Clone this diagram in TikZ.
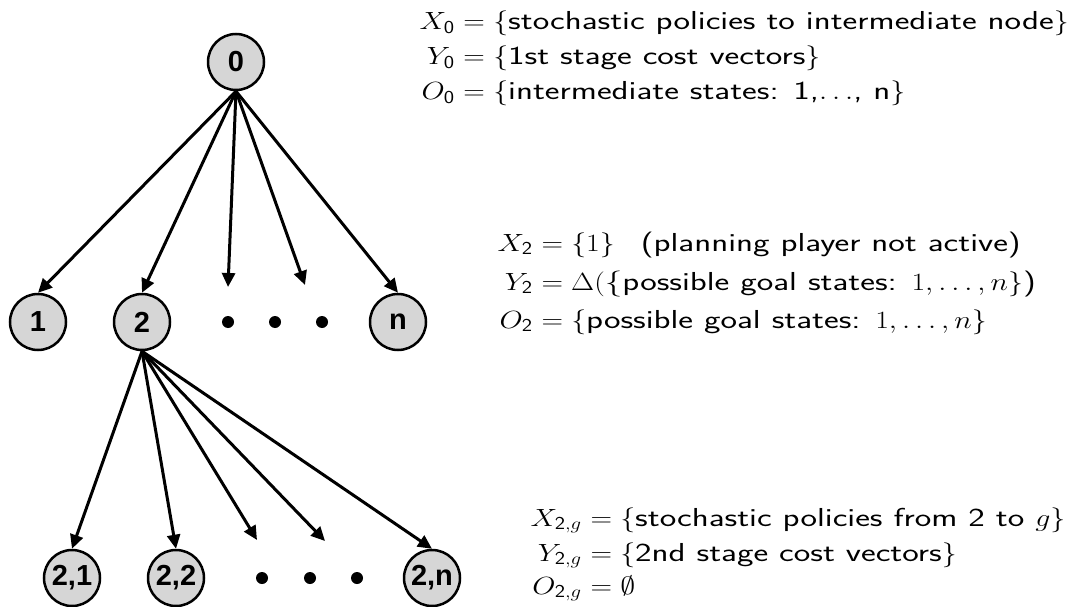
\documentclass[tikz,border=0pt]{standalone}
\usepackage{graphicx}
\usepackage{amsmath}
\usepackage{fontspec}
\setsansfont{Latin Modern Sans}[FakeStretch=1.35]
\newfontfamily\subsf{Latin Modern Sans}
\newfontfamily\nodefont{Liberation Sans}
\newcommand{\M}[1]{\scalebox{1.2}[1]{$#1$}}
\newcommand{\subtxt}[1]{\text{\subsf #1}}
\usetikzlibrary{arrows.meta}
\begin{document}
\begin{tikzpicture}[x=1pt,y=-1pt,
  circ/.style={circle, draw, line width=2.5pt, fill=black!16, minimum size=56pt, inner sep=0pt, font=\nodefont\bfseries\fontsize{29}{29}\selectfont},
  dotn/.style={circle, fill=black, minimum size=12pt, inner sep=0pt},
  arr/.style={line width=3pt, -{Triangle[length=14pt,width=13pt]}},
  txt/.style={font=\fontsize{26}{35}\selectfont\sffamily, inner sep=0pt}]
\useasboundingbox (0,0) rectangle (1070,607);
% level 0
\node[circ] (n0) at (236,62) {0};
% level 1
\node[circ] (n1) at (38,322) {1};
\node[circ] (n2) at (142,322) {2};
\node[dotn] (d1) at (228,322) {};
\node[dotn] (d2) at (275,322) {};
\node[dotn] (d3) at (322,322) {};
\node[circ] (nn) at (398,322) {n};
\coordinate (t3) at (228,287);
\coordinate (t4) at (305,285);
% level 2
\node[circ] (n21) at (72,578) {2,1};
\node[circ] (n22) at (176,578) {2,2};
\node[dotn] (e1) at (262,578) {};
\node[dotn] (e2) at (310,578) {};
\node[dotn] (e3) at (357,578) {};
\node[circ] (n2n) at (432,578) {2,n};
\coordinate (s3) at (257,540);
\coordinate (s4) at (325,541);
% arrows
\draw[arr] (n0.south) -- (n1.north);
\draw[arr] (n0.south) -- (n2.north);
\draw[arr] (n0.south) -- (t3);
\draw[arr] (n0.south) -- (t4);
\draw[arr] (n0.south) -- (nn.north);
\draw[arr] (n2.south) -- (n21.north);
\draw[arr] (n2.south) -- (n22.north);
\draw[arr] (n2.south) -- (s3);
\draw[arr] (n2.south) -- (s4);
\draw[arr] (n2.south) -- (n2n.north);
% text block 1
\node[txt, anchor=base east] (a1) at (455,30) {\M{X_{\subtxt{0}}}};
\node[txt, anchor=base west] (b1) at (455,30) {\M{{}=\{}stochastic policies to intermediate node\M{\}}};
\node[txt, anchor=base east] (a2) at (455,65) {\M{Y_{\subtxt{0}}}};
\node[txt, anchor=base west] (b2) at (455,65) {\M{{}=\{}1st stage cost vectors\M{\}}};
\node[txt, anchor=base east] (a3) at (455,100) {\M{O_{\subtxt{0}}}};
\node[txt, anchor=base west] (b3) at (455,100) {\M{{}=\{}intermediate states: 1,\M{\ldots}, n\M{\}}};
% text block 2
\node[txt, anchor=base east] (c1) at (533,251) {\M{X_{\subtxt{2}}}};
\node[txt, anchor=base west] (f1) at (533,251) {\M{{}=\{1\}}\quad (planning player not active)};
\node[txt, anchor=base east] (c2) at (533,290) {\M{Y_{\subtxt{2}}}};
\node[txt, anchor=base west] (f2) at (533,290) {\M{{}=\Delta(}\{possible goal states: \M{1,\ldots,n\}})};
\node[txt, anchor=base east] (c3) at (533,328) {\M{O_{\subtxt{2}}}};
\node[txt, anchor=base west] (f3) at (533,328) {\M{{}=\{}possible goal states: \M{1,\ldots,n\}}};
% text block 3
\node[txt, anchor=base east] (g1) at (582,526) {\M{X_{\subtxt{2},g}}};
\node[txt, anchor=base west] (h1) at (582,526) {\M{{}=\{}stochastic policies from 2 to \M{g\}}};
\node[txt, anchor=base east] (g2) at (582,561) {\M{Y_{\subtxt{2},g}}};
\node[txt, anchor=base west] (h2) at (582,561) {\M{{}=\{}2nd stage cost vectors\M{\}}};
\node[txt, anchor=base east] (g3) at (582,594) {\M{O_{\subtxt{2},g}}};
\node[txt, anchor=base west] (h3) at (582,594) {\M{{}=\emptyset}};
\end{tikzpicture}
\end{document}
